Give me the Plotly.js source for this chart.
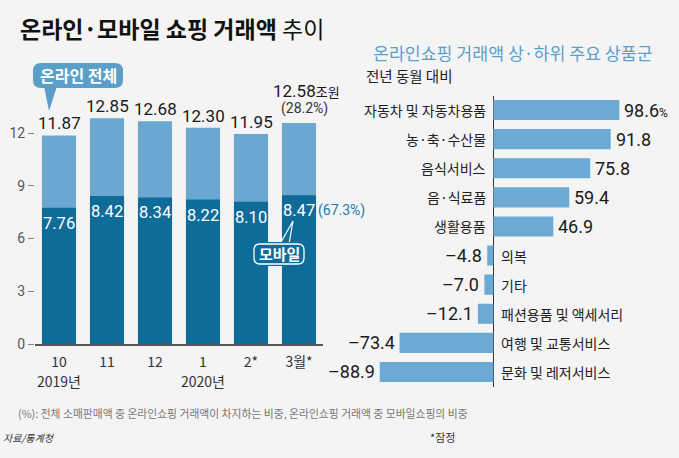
<!DOCTYPE html>
<html>
<head>
<meta charset="utf-8">
<script src="https://cdn.plot.ly/plotly-3.0.1.min.js"></script>
<style>html,body{margin:0;padding:0;background:#f4f4f4;}#chart{width:679px;height:458px;}</style>
</head>
<body>
<div id="chart"></div>
<script>
// ---- data ----
const months = ['10', '11', '12', '1', '2*', '3월*'];
const yearLabels = ['2019년', '', '', '2020년', '', ''];
const totalOnline = [11.87, 12.85, 12.68, 12.30, 11.95, 12.58];
const mobileOnline = [7.76, 8.42, 8.34, 8.22, 8.10, 8.47];
const shareTotal = [null, null, null, null, null, 28.2];
const shareMobile = [null, null, null, null, null, 67.3];
const productGroups = ['자동차 및 자동차용품', '농·축·수산물', '음식서비스', '음·식료품', '생활용품',
  '의복', '기타', '패션용품 및 액세서리', '여행 및 교통서비스', '문화 및 레저서비스'];
const yoyChange = [98.6, 91.8, 75.8, 59.4, 46.9, -4.8, -7.0, -12.1, -73.4, -88.9];
const yTicks = [0, 3, 6, 9, 12];

// ---- helpers (pixel -> paper) ----
const W = 679, H = 458;
const px = x => x / W;
const py = y => 1 - y / H;
const KR = '"Noto Sans CJK KR", "Noto Sans", sans-serif';
const NUM = '"Liberation Sans Narrow", "Roboto", "Noto Sans CJK KR", sans-serif';
const LIGHT = '#6aa8d2', DARK = '#0f6c99', RBAR = '#6aaad4', BG = '#f4f4f4';

function roundRect(x0, y0, x1, y1, r) {
  const P = (x, y) => px(x) + ',' + py(y);
  return 'M ' + P(x0 + r, y0) + ' L ' + P(x1 - r, y0) + ' Q ' + P(x1, y0) + ' ' + P(x1, y0 + r) +
    ' L ' + P(x1, y1 - r) + ' Q ' + P(x1, y1) + ' ' + P(x1 - r, y1) +
    ' L ' + P(x0 + r, y1) + ' Q ' + P(x0, y1) + ' ' + P(x0, y1 - r) +
    ' L ' + P(x0, y0 + r) + ' Q ' + P(x0, y0) + ' ' + P(x0 + r, y0) + ' Z';
}
function poly(pts) {
  return 'M ' + pts.map(p => px(p[0]) + ',' + py(p[1])).join(' L ') + ' Z';
}
const fmtSigned = v => (v < 0 ? '–' + Math.abs(v).toFixed(1) : v.toFixed(1));

const xIdx = months.map((m, i) => i);

const traces = [
  { type: 'bar', x: xIdx, y: totalOnline, marker: { color: LIGHT }, width: 0.71,
    hoverinfo: 'skip', xaxis: 'x', yaxis: 'y' },
  { type: 'bar', x: xIdx, y: mobileOnline, marker: { color: DARK }, width: 0.71,
    hoverinfo: 'skip', xaxis: 'x', yaxis: 'y' },
  { type: 'bar', orientation: 'h', x: yoyChange, y: productGroups.map((c, i) => i),
    marker: { color: RBAR }, width: 0.69, hoverinfo: 'skip', xaxis: 'x2', yaxis: 'y2' }
];

const annotations = [];
// left chart labels
totalOnline.forEach((v, i) => {
  if (shareTotal[i] == null) {
    annotations.push({ xref: 'x', yref: 'y', x: i, y: v, text: v.toFixed(2), showarrow: false,
      xanchor: 'center', yanchor: 'bottom', yshift: 0, font: { family: NUM, size: 17, color: '#1a1a1a' } });
  } else {
    annotations.push({ xref: 'x', yref: 'y', x: i, y: v, text: v.toFixed(2) + '<span style="font-size:13px">조원</span>',
      showarrow: false, xanchor: 'center', yanchor: 'bottom', yshift: 20, xshift: 7, font: { family: NUM, size: 17, color: '#1a1a1a' } });
    annotations.push({ xref: 'x', yref: 'y', x: i, y: v, text: '(' + shareTotal[i].toFixed(1) + '%)',
      showarrow: false, xanchor: 'center', yanchor: 'bottom', yshift: 4, xshift: 5, font: { family: NUM, size: 14, color: '#333' } });
  }
});
mobileOnline.forEach((v, i) => {
  annotations.push({ xref: 'x', yref: 'y', x: i, y: v, text: v.toFixed(2), showarrow: false,
    xanchor: 'center', yanchor: 'top', yshift: -4, font: { family: NUM, size: 16.5, color: '#ffffff' } });
  if (shareMobile[i] != null) {
    annotations.push({ xref: 'x', yref: 'y', x: i, y: v, text: '(' + shareMobile[i].toFixed(1) + '%)', showarrow: false,
      xanchor: 'left', yanchor: 'top', xshift: 17, yshift: -5, font: { family: NUM, size: 14, color: '#2478ad' } });
  }
});
yearLabels.forEach((t, i) => {
  if (t) annotations.push({ xref: 'x', yref: 'paper', x: i, y: py(381), text: t, showarrow: false,
    xanchor: 'center', yanchor: 'middle', font: { family: KR, size: 14, color: '#333' } });
});
// right chart labels
yoyChange.forEach((v, i) => {
  const pos = v >= 0;
  annotations.push({ xref: 'x2', yref: 'y2', x: 0, y: i, text: productGroups[i], showarrow: false,
    xanchor: pos ? 'right' : 'left', yanchor: 'middle', xshift: pos ? -5 : 6, font: { family: KR, size: 14, color: '#222' } });
  annotations.push({ xref: 'x2', yref: 'y2', x: v, y: i,
    text: fmtSigned(v) + (i === 0 ? '<span style="font-size:12px">%</span>' : ''), showarrow: false,
    xanchor: pos ? 'left' : 'right', yanchor: 'middle', xshift: pos ? 3 : -3, font: { family: NUM, size: 18, color: '#1a1a1a' } });
});
// texts
const paperText = (x, y, text, font, xanchor) => ({ xref: 'paper', yref: 'paper', x: px(x), y: py(y), text: text,
  showarrow: false, xanchor: xanchor || 'center', yanchor: 'middle', font: font });
annotations.push(
  paperText(78, 75, '<b>온라인 전체</b>', { family: KR, size: 16, color: '#ffffff' }),
  paperText(279, 254, '<b>모바일</b>', { family: KR, size: 15, color: '#ffffff' }),
  paperText(371, 52, '온라인쇼핑 거래액 상·하위 주요 상품군', { family: KR, size: 17.3, color: '#5b9fcb' }, 'left'),
  paperText(364, 75, '전년 동월 대비', { family: KR, size: 14.5, color: '#222' }, 'left'),
  paperText(16, 413, '(%): 전체 소매판매액 중 온라인쇼핑 거래액이 차지하는 비중, 온라인쇼핑 거래액 중 모바일쇼핑의 비중',
    { family: KR, size: 10.8, color: '#777' }, 'left'),
  paperText(1, 437, '<i>자료/통계청</i>', { family: KR, size: 10, color: '#333' }, 'left'),
  paperText(428, 437, '*잠정', { family: KR, size: 11, color: '#333' }, 'left')
);

const shapes = [
  { type: 'path', xref: 'paper', yref: 'paper', path: poly([[44, 86], [57, 86], [49, 111]]),
    fillcolor: '#5b9fc9', line: { width: 0 } },
  { type: 'path', xref: 'paper', yref: 'paper', path: roundRect(33, 63, 123, 88, 8),
    fillcolor: '#5b9fc9', line: { width: 0 } },
  { type: 'path', xref: 'paper', yref: 'paper', path: poly([[280, 244], [293, 221], [289, 244]]),
    fillcolor: DARK, line: { color: '#ffffff', width: 1.2 } },
  { type: 'path', xref: 'paper', yref: 'paper', path: roundRect(252, 242, 306, 266, 7),
    fillcolor: DARK, line: { width: 0 } },
  { type: 'path', xref: 'paper', yref: 'paper', path: roundRect(254, 244, 304, 264, 6),
    fillcolor: DARK, line: { color: '#ffffff', width: 1.3 } }
];

const layout = {
  width: W, height: H,
  margin: { l: 0, r: 0, t: 0, b: 0 },
  paper_bgcolor: BG, plot_bgcolor: BG,
  showlegend: false, barmode: 'overlay',
  title: { text: '<b>온라인·모바일 쇼핑 거래액</b> 추이', x: px(20), xanchor: 'left', y: py(30), yanchor: 'middle',
    font: { family: KR, size: 23, color: '#111' } },
  xaxis: { domain: [px(35), px(323)], range: [-0.5, 5.5], tickvals: xIdx, ticktext: months,
    showgrid: false, zeroline: false, showline: true, linecolor: '#555', linewidth: 1.5,
    ticks: '', ticklabelstandoff: 5, tickfont: { family: KR, size: 14, color: '#333' }, fixedrange: true },
  yaxis: { domain: [py(344), py(98)], range: [0, 14], tickvals: yTicks, showgrid: false, zeroline: false,
    ticks: 'outside', ticklen: 6, tickcolor: '#888', tickwidth: 1,
    tickfont: { family: NUM, size: 14, color: '#555' }, fixedrange: true },
  xaxis2: { domain: [px(340), px(659.5)], range: [-120, 130], anchor: 'y2', showgrid: false,
    showticklabels: false, zeroline: true, zerolinecolor: '#333', zerolinewidth: 1.5, showline: false, ticks: '' },
  yaxis2: { domain: [py(386.5), py(95.5)], range: [9.5, -0.5], anchor: 'x2', showgrid: false,
    showticklabels: false, zeroline: false, showline: false, ticks: '' },
  annotations: annotations,
  shapes: shapes
};

Plotly.newPlot('chart', traces, layout, { staticPlot: true, displayModeBar: false });
</script>
</body>
</html>
